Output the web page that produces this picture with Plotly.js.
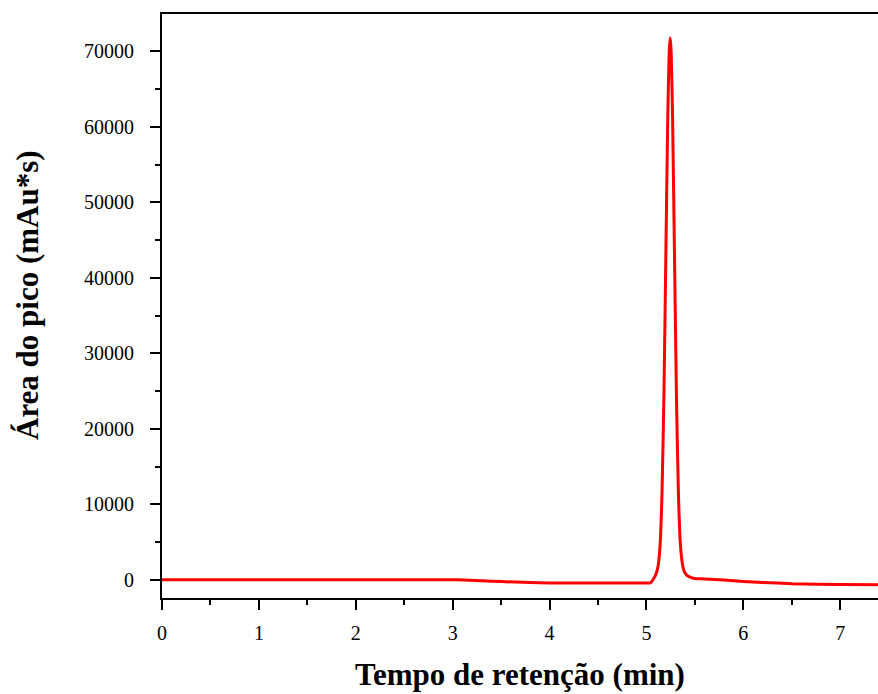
<!DOCTYPE html>
<html>
<head>
<meta charset="utf-8">
<script src="https://cdn.plot.ly/plotly-3.0.1.min.js"></script>
<style>
  html, body { margin: 0; padding: 0; background: #fff; }
  #chart { width: 878px; height: 694px; }
</style>
</head>
<body>
<div id="chart"></div>
<script>
// Chromatogram: retention time (min) vs peak area (mAu*s)
const tempo = [
  0, 0.5, 1, 1.5, 2, 2.5, 3, 3.05, 3.3, 3.5, 3.8, 4.0, 4.3, 4.6, 4.9, 5.0, 5.04,
  5.06, 5.08, 5.10, 5.12, 5.14, 5.16, 5.18, 5.20, 5.22, 5.235, 5.245, 5.255,
  5.27, 5.29, 5.31, 5.33, 5.35, 5.37, 5.39, 5.41, 5.43, 5.46, 5.5, 5.6, 5.8,
  6.0, 6.2, 6.5, 7.0, 7.4
];
const area = [
  0, 0, 0, 0, 0, 0, 0, 0, -150, -250, -360, -420, -440, -440, -440, -440, -420,
  -150, 250, 800, 1800, 4400, 11100, 24100, 42600, 61100, 70000, 71800, 70000,
  61100, 42600, 24100, 11500, 4800, 2200, 1100, 700, 450, 300, 160, 100, -40,
  -220, -350, -530, -620, -670
];

const xTitle = 'Tempo de retenção (min)';
const yTitle = 'Área do pico (mAu*s)';

const font = "'Times New Roman', 'Liberation Serif', serif";

const trace = {
  x: tempo,
  y: area,
  type: 'scatter',
  mode: 'lines',
  line: { color: '#ff0000', width: 3, shape: 'spline', smoothing: 0.5 },
  hoverinfo: 'x+y'
};

const layout = {
  width: 878,
  height: 694,
  margin: { l: 162, r: 0, t: 14, b: 96 },
  paper_bgcolor: '#ffffff',
  plot_bgcolor: '#ffffff',
  showlegend: false,
  font: { family: font, color: '#000', size: 20 },
  xaxis: {
    range: [0, 7.39],
    tick0: 0,
    dtick: 1,
    showgrid: false,
    zeroline: false,
    showline: true,
    linecolor: '#000',
    linewidth: 2,
    mirror: true,
    ticks: 'outside',
    ticklen: 10,
    tickwidth: 2,
    tickcolor: '#000',
    ticklabelstandoff: 6,
    minor: { ticks: 'outside', ticklen: 5, tickwidth: 2, tickcolor: '#000', dtick: 0.5, showgrid: false },
    tickfont: { family: font, size: 20, color: '#000' },
    title: { text: xTitle, font: { family: font, size: 31, color: '#000', weight: 'bold' }, standoff: 20 }
  },
  yaxis: {
    range: [-2420, 74960],
    tick0: 0,
    dtick: 10000,
    showgrid: false,
    zeroline: false,
    showline: true,
    linecolor: '#000',
    linewidth: 2,
    mirror: false,
    ticks: 'outside',
    ticklen: 10,
    tickwidth: 2,
    tickcolor: '#000',
    ticklabelstandoff: 12,
    minor: { ticks: 'outside', ticklen: 5, tickwidth: 2, tickcolor: '#000', dtick: 5000, showgrid: false },
    tickformat: 'd',
    tickfont: { family: font, size: 20, color: '#000' }
  },
  // vertical axis title, placed a little above the plot centre
  annotations: [{
    text: yTitle,
    xref: 'paper', yref: 'paper',
    x: -0.187, y: 0.519,
    xanchor: 'center', yanchor: 'middle',
    textangle: -90,
    showarrow: false,
    font: { family: font, size: 31, color: '#000', weight: 'bold' }
  }]
};

Plotly.newPlot('chart', [trace], layout, { displayModeBar: false, staticPlot: true });
</script>
</body>
</html>
